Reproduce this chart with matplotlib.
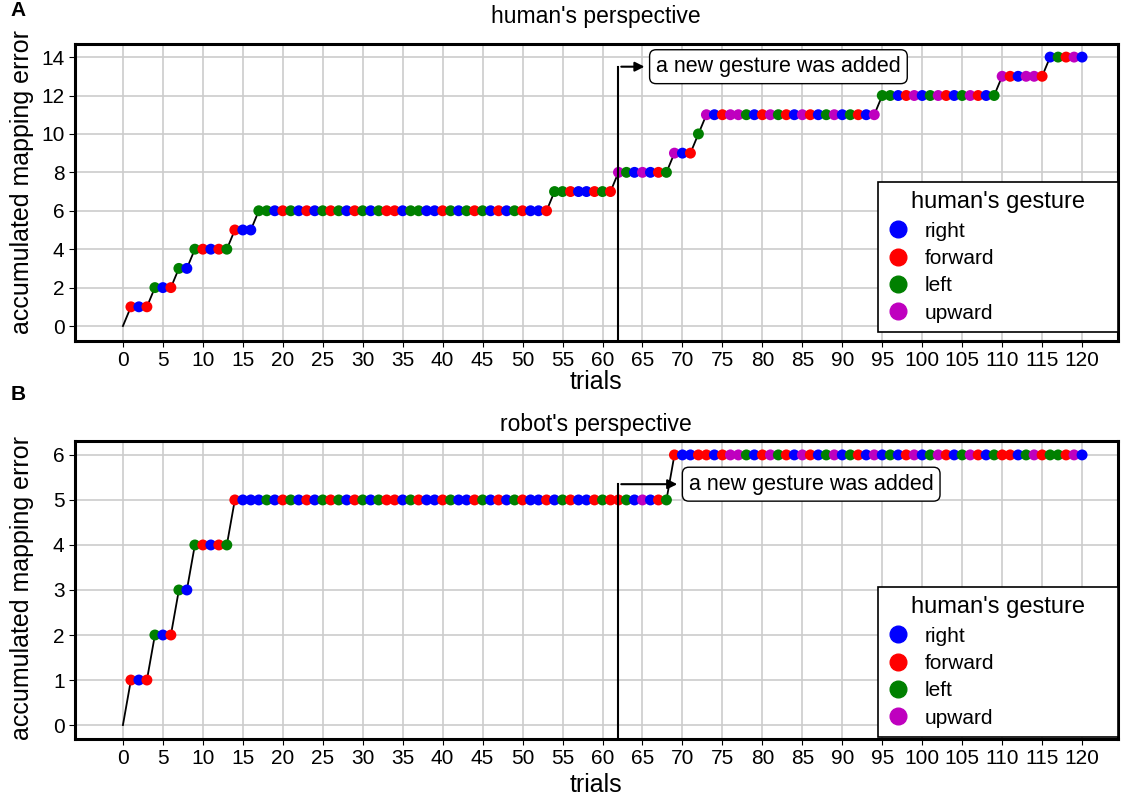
import matplotlib
matplotlib.use("Agg")
import matplotlib.pyplot as plt
from matplotlib.lines import Line2D

plt.rcParams["font.family"] = ["Liberation Sans", "DejaVu Sans"]

# 제스처 종류 -> 색
gesture_names = ["right", "forward", "left", "upward"]
gesture_codes = ["R", "F", "L", "U"]
gesture_colors = ["b", "r", "g", "m"]

trials = list(range(0, 121))
xticks = list(range(0, 121, 5))

# A: human's perspective (trial 0..120)
err_a = [0,
         1, 1, 1, 2, 2, 2, 3, 3, 4, 4,
         4, 4, 4, 5, 5, 5, 6, 6, 6, 6,
         6, 6, 6, 6, 6, 6, 6, 6, 6, 6,
         6, 6, 6, 6, 6, 6, 6, 6, 6, 6,
         6, 6, 6, 6, 6, 6, 6, 6, 6, 6,
         6, 6, 6, 7, 7, 7, 7, 7, 7, 7,
         7, 8, 8, 8, 8, 8, 8, 8, 9, 9,
         9, 10, 11, 11, 11, 11, 11, 11, 11, 11,
         11, 11, 11, 11, 11, 11, 11, 11, 11, 11,
         11, 11, 11, 11, 12, 12, 12, 12, 12, 12,
         12, 12, 12, 12, 12, 12, 12, 12, 12, 13,
         13, 13, 13, 13, 13, 14, 14, 14, 14, 14]
gest_a = ["F", "R", "F", "L", "R", "F", "L", "R", "L", "F",
          "R", "F", "L", "F", "R", "R", "L", "L", "R", "F",
          "L", "R", "F", "R", "L", "F", "L", "R", "F", "L",
          "R", "L", "F", "F", "R", "L", "L", "R", "R", "F",
          "L", "R", "L", "F", "L", "R", "F", "R", "L", "F",
          "R", "R", "F", "L", "L", "F", "R", "R", "F", "L",
          "F", "U", "L", "R", "U", "R", "F", "L", "U", "R",
          "F", "L", "U", "R", "F", "U", "U", "L", "R", "F",
          "U", "L", "F", "R", "U", "F", "R", "L", "U", "R",
          "L", "F", "R", "U", "L", "L", "R", "F", "U", "R",
          "L", "U", "F", "R", "L", "U", "F", "R", "L", "U",
          "F", "R", "U", "U", "F", "R", "L", "F", "U", "R"]

# B: robot's perspective
err_b = [0,
         1, 1, 1, 2, 2, 2, 3, 3, 4, 4,
         4, 4, 4, 5, 5, 5, 5, 5, 5, 5,
         5, 5, 5, 5, 5, 5, 5, 5, 5, 5,
         5, 5, 5, 5, 5, 5, 5, 5, 5, 5,
         5, 5, 5, 5, 5, 5, 5, 5, 5, 5,
         5, 5, 5, 5, 5, 5, 5, 5, 5, 5,
         5, 5, 5, 5, 5, 5, 5, 5, 6, 6,
         6, 6, 6, 6, 6, 6, 6, 6, 6, 6,
         6, 6, 6, 6, 6, 6, 6, 6, 6, 6,
         6, 6, 6, 6, 6, 6, 6, 6, 6, 6,
         6, 6, 6, 6, 6, 6, 6, 6, 6, 6,
         6, 6, 6, 6, 6, 6, 6, 6, 6, 6]
gest_b = ["F", "R", "F", "L", "R", "F", "L", "R", "L", "F",
          "R", "F", "L", "F", "R", "R", "R", "L", "R", "F",
          "L", "R", "F", "R", "L", "F", "L", "R", "F", "L",
          "R", "L", "F", "F", "R", "L", "F", "R", "R", "F",
          "L", "R", "R", "F", "L", "R", "F", "R", "L", "F",
          "R", "R", "F", "R", "L", "F", "R", "R", "F", "L",
          "F", "F", "L", "R", "U", "R", "F", "L", "F", "R",
          "R", "F", "F", "R", "F", "U", "U", "L", "R", "F",
          "U", "L", "F", "R", "U", "F", "R", "L", "U", "R",
          "L", "F", "R", "U", "R", "L", "R", "F", "U", "R",
          "L", "U", "F", "R", "L", "U", "F", "R", "L", "F",
          "F", "R", "L", "U", "F", "L", "L", "F", "U", "R"]

new_gesture_trial = 62


def draw_panel(ax, err, gest, ylim, yticks, arrow_y, text_x, legend_y):
    ax.plot(trials, err, color="k", lw=1.3, zorder=2)
    cmap = dict(zip(gesture_codes, gesture_colors))
    cols = [cmap[g] for g in gest]
    ax.scatter(trials[1:], err[1:], c=cols, s=62, linewidths=0, zorder=3)

    # 새 제스처 추가 시점 표시
    ax.plot([new_gesture_trial, new_gesture_trial], [ylim[0], arrow_y], color="k", lw=1.5, zorder=4)
    ax.annotate("", xy=(text_x - 1.1, arrow_y), xytext=(new_gesture_trial, arrow_y),
                arrowprops=dict(arrowstyle="-|>", color="k", lw=1.5, mutation_scale=14), zorder=4)
    ax.text(text_x, arrow_y, "a new gesture was added", fontsize=15.5, ha="left", va="center",
            bbox=dict(boxstyle="round,pad=0.3", fc="white", ec="k", lw=1.0), zorder=5)

    ax.set_xlim(-6, 124.5)
    ax.set_ylim(*ylim)
    ax.set_xticks(xticks)
    ax.set_yticks(yticks)
    ax.tick_params(labelsize=15, length=4, color="k")
    ax.grid(True, color="#cccccc", lw=1.2)
    ax.set_axisbelow(True)
    for s in ax.spines.values():
        s.set_linewidth(2.2)

    # 범례: 축 오른쪽 아래, 폭 약 240px
    handles = [Line2D([], [], ls="none", marker="o", markersize=12, color=c, label=n)
               for n, c in zip(gesture_names, gesture_colors)]
    w = 240 / 1043
    leg = ax.legend(handles=handles, title="human's gesture", loc="lower left",
                    bbox_to_anchor=(1.0 - w, legend_y, w, 0), mode="expand", borderaxespad=0,
                    fontsize=15, title_fontsize=17, fancybox=False, edgecolor="k", framealpha=1,
                    handlelength=1.0, handletextpad=0.8, labelspacing=0.4, borderpad=0.45)
    leg.get_frame().set_linewidth(1.2)


fig = plt.figure(figsize=(11.24, 7.99), dpi=100)
ax_a = fig.add_axes([0.0667, 0.5732, 0.9280, 0.3717])
ax_b = fig.add_axes([0.0667, 0.0751, 0.9280, 0.3730])

draw_panel(ax_a, err_a, gest_a, (-0.78, 14.68), list(range(0, 15, 2)), 13.5, 66.7, 0.03)
draw_panel(ax_b, err_b, gest_b, (-0.31, 6.31), list(range(0, 7)), 5.35, 70.8, 0.007)

fig.text(596 / 1124, 1 - 17 / 799, "human's perspective", fontsize=16.5, ha="center", va="center")
fig.text(596 / 1124, 1 - 425 / 799, "robot's perspective", fontsize=16.5, ha="center", va="center")
fig.text(596 / 1124, 1 - 382 / 799, "trials", fontsize=18, ha="center", va="center")
fig.text(596 / 1124, 1 - 785 / 799, "trials", fontsize=18, ha="center", va="center")
fig.text(22 / 1124, 1 - 182 / 799, "accumulated mapping error", fontsize=18, rotation=90,
         ha="center", va="center")
fig.text(22 / 1124, 1 - 588 / 799, "accumulated mapping error", fontsize=18, rotation=90,
         ha="center", va="center")
fig.text(18 / 1124, 1 - 10 / 799, "A", fontsize=15, fontweight="bold", ha="center", va="center")
fig.text(18 / 1124, 1 - 395 / 799, "B", fontsize=15, fontweight="bold", ha="center", va="center")

fig.savefig("out.png", dpi=100)
